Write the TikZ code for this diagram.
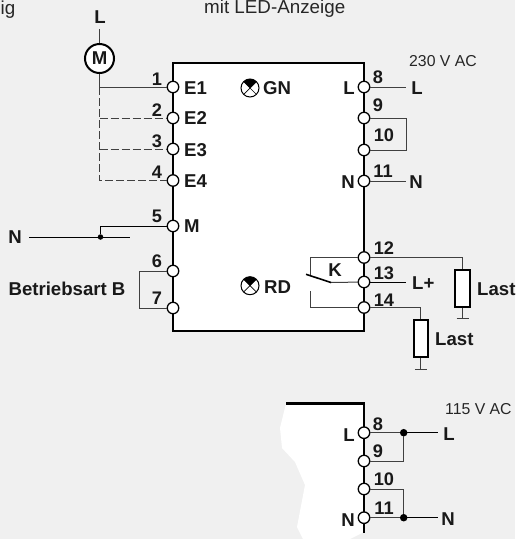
\documentclass[tikz,border=0pt]{standalone}
\usepackage{fontspec}
\setmainfont{Liberation Sans}
\tikzset{
  lab/.style={font=\fontsize{18.6}{20}\selectfont\bfseries, inner sep=0pt, text=black!90},
  num/.style={lab, font=\fontsize{18.2}{20}\selectfont\bfseries},
  note/.style={font=\fontsize{15.8}{18}\selectfont, inner sep=0pt, text=black!85},
  head/.style={note, font=\fontsize{18.8}{20}\selectfont},
  term/.style={circle, draw=black, line width=1.3pt, fill=white, minimum size=11.5pt, inner sep=0pt, outer sep=0pt},
  lamp/.style={circle, draw=black, line width=1pt, fill=white, minimum size=18pt, inner sep=0pt, outer sep=0pt},
  wire/.style={draw=black!75, line width=1pt},
  dwire/.style={wire, dash pattern=on 8pt off 3pt},
  last/.style={rectangle, draw=black, line width=2pt, fill=white, minimum width=14.5pt, minimum height=37pt, inner sep=0pt, outer sep=1pt},
  dot/.style={circle, fill=black, minimum size=5.5pt, inner sep=0pt, outer sep=0pt},
  bigdot/.style={dot, minimum size=7.5pt},
}
\begin{document}
\begin{tikzpicture}[x=1pt, y=-1pt]
  \useasboundingbox[fill=black!6] (0,0) rectangle (515,539);
  % housing
  \node[rectangle, draw=black, line width=2.2pt, fill=white, minimum width=191pt, minimum height=268pt, inner sep=0pt, outer sep=0pt] (box) at (268.5,197) {};
  \fill[white] (286,403.5) -- (280,428) -- (282,448) -- (295,462) -- (305,485) -- (297,527) -- (303,539) -- (350,539) -- (364,532) -- (364,403.5) -- cycle;
  \draw[line width=2.2pt] (286,403.5) -- (364,403.5) -- (364,533);
  % lamps
  \foreach \n/\x/\y in {gn/250/88, rd/250/285.7} {
    \node[lamp] (\n) at (\x,\y) {};
    \fill (\n.center) -- (\n.45) arc[start angle=45, end angle=135, radius=9pt] -- cycle;
    \draw[line width=.7pt] (\n.45) -- (\n.225) (\n.135) -- (\n.315);
  }
  % terminals
  \foreach \n/\x/\y in {e1/173/87, e2/173/118, e3/173/149, e4/173/180.5, m/173/226, a6/173/271, a7/173/308,
    r8/364/87, r9/364/118, r10/364/150, r11/364/181, r12/364/257.5, r13/364/282, r14/364/307.5,
    u8/364/432.7, u9/364/461, u10/364/489, u11/364/517.7}
    \node[term] (\n) at (\x,\y) {};
  % motor
  \node[circle, draw=black, line width=2pt, fill=white, minimum size=29pt, inner sep=0pt, outer sep=1pt, lab] (mot) at (99.5,58.5) {M};
  \node[lab] (lm) at (100,17) {L};
  \coordinate (lmend) at (99.5,29);
  \coordinate (j1) at (99.5,87);
  \draw[wire] (lmend) -- (mot);
  \draw[wire] (mot) -- (j1) -- (e1);
  \draw[dwire] (j1) -- (99.5,180.5) -- (e4);
  \draw[dwire] (99.5,118) -- (e2);
  \draw[dwire] (99.5,149) -- (e3);
  % N line
  \node[lab] (ln) at (15,237.5) {N};
  \coordinate (na) at (29,237);
  \coordinate (nb) at (130,237);
  \node[dot] (nd) at (100.5,237) {};
  \draw[wire, draw=black] (na) -- (nb);
  \draw[wire, draw=black] (nd) |- (m);
  % operating mode link
  \draw[wire] (a6) -- (139,271) -- (139,308) -- (a7);
  % supply, right side
  \coordinate (l8) at (406,87);
  \coordinate (l11) at (406,181);
  \coordinate (l13) at (406,282);
  \draw[wire] (r8) -- (l8);
  \draw[wire] (r11) -- (l11);
  \draw[wire, draw=black] (r13) -- (l13);
  \draw[wire] (r9) -- (406,118) -- (406,150) -- (r10);
  % relay
  \coordinate (ka) at (306,274.3);
  \coordinate (kb) at (331,282.5);
  \draw[wire] (r12) -- (310,257.5) -- (310,275.5);
  \draw[wire] (r14) -- (310,307.5) -- (310,291);
  \draw[wire] (r13) -- (kb);
  \draw[line width=1.6pt] (ka) -- (kb);
  % loads
  \node[last] (last1) at (462.5,288.5) {};
  \node[last] (last2) at (420.8,338.5) {};
  \coordinate (g1) at (462.5,318.7);
  \coordinate (g2) at (420.8,369);
  \draw[wire] (r12) -| (last1);
  \draw[wire] (r14) -| (last2);
  \draw[wire] (last1) -- (g1);
  \draw[wire] (last2) -- (g2);
  \draw[wire] ([xshift=-6pt]g1) -- ([xshift=6pt]g1);
  \draw[wire] ([xshift=-6pt]g2) -- ([xshift=6pt]g2);
  % 115 V part
  \coordinate (l8u) at (438,432.7);
  \coordinate (l11u) at (438,517.7);
  \node[bigdot] (d8) at (403.7,432.7) {};
  \node[bigdot] (d11) at (403.7,517.7) {};
  \draw[wire] (u8) -- (d8);
  \draw[wire, draw=black] (d8) -- (l8u);
  \draw[wire] (d8) |- (u9);
  \draw[wire] (u11) -- (d11);
  \draw[wire, draw=black] (d11) -- (l11u);
  \draw[wire] (d11) |- (u10);
  % texts
  \node[head, anchor=west] (t1) at (0.5,10) {ig};
  \node[head, anchor=west] (t2) at (204,9) {mit LED-Anzeige};
  \node[note, anchor=west] (t3) at (409,61.5) {230 V AC};
  \node[note, anchor=west] (t4) at (445,409) {115 V AC};
  \foreach \n/\x/\y/\t in {n1/157/79/1, n2/157/110/2, n3/157/141/3, n4/157/172/4, n5/157/216/5, n6/157/261/6, n7/157/298/7,
    n8/378/77/8, n9/378/105.5/9, n10/384/135.5/10, n11/383/171/11, n12/384/248/12, n13/384/273/13, n14/384/300/14,
    m8/378/424/8, m9/378/451/9, m10/384/479/10, m11/384/508/11}
    \node[num] (\n) at (\x,\y) {\t};
  \foreach \n/\y/\t in {le1/88/E1, le2/118.5/E2, le3/150/E3, le4/181/E4, lm5/226.5/M}
    \node[lab, anchor=west] (\n) at (184,\y) {\t};
  \node[lab, anchor=west] (lgn) at (263,88.5) {GN};
  \node[lab, anchor=west] (lrd) at (264,287) {RD};
  \node[lab] (lb) at (67,289) {Betriebsart B};
  \node[lab] (ll8) at (349,88.5) {L};
  \node[lab] (ln11) at (348,182.5) {N};
  \node[lab] (rl8) at (417,88) {L};
  \node[lab] (rn11) at (416,182.5) {N};
  \node[lab] (lk) at (335,270) {K};
  \node[lab, anchor=west] (llp) at (412,283) {L+};
  \node[lab, anchor=west] (last1t) at (477,289) {Last};
  \node[lab, anchor=west] (last2t) at (435,339) {Last};
  \node[lab] (ul8) at (349,435) {L};
  \node[lab] (un11) at (348,520) {N};
  \node[lab] (url) at (449,434.5) {L};
  \node[lab] (urn) at (448,519.5) {N};
\end{tikzpicture}
\end{document}
